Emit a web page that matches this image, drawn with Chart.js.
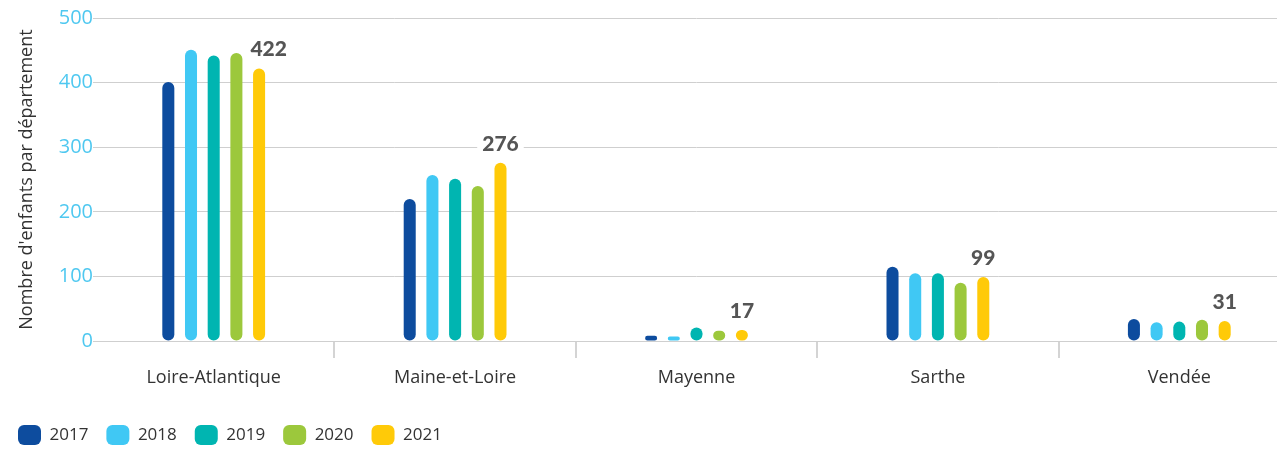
<!DOCTYPE html>
<html>
<head>
<meta charset="utf-8">
<script src="https://cdn.jsdelivr.net/npm/chart.js@4.4.1/dist/chart.umd.min.js"></script>
<style>
  html, body { margin: 0; padding: 0; background: #fff; overflow: hidden; }
  #wrap { width: 1300px; height: 455px; }
</style>
</head>
<body>
<div id="wrap"><canvas id="enfantsChart"></canvas></div>
<script>
// departements + years
const departements = ['Loire-Atlantique', 'Maine-et-Loire', 'Mayenne', 'Sarthe', 'Vendée'];
const annees = ['2017', '2018', '2019', '2020', '2021'];

// children counts per year
const v2017 = [401, 220, 8, 115, 34];
const v2018 = [451, 257, 7, 105, 29];
const v2019 = [442, 251, 21, 105, 30];
const v2020 = [446, 240, 16, 90, 33];
const v2021 = [422, 276, 17, 99, 31];

const yTicks = [0, 100, 200, 300, 400, 500];
const couleurs = ['#0d4c9e', '#40c8f4', '#00b5b1', '#9cc83c', '#ffca08'];

const series = [v2017, v2018, v2019, v2020, v2021];

const LABEL_FONT = '900 21px Lato';

// where to put each value label; nudged right if the previous bar is in the way
function labelBoxes(chart) {
  const ctx = chart.ctx;
  const last = chart.data.datasets.length - 1;
  const meta = chart.getDatasetMeta(last);
  const prev = chart.getDatasetMeta(last - 1);
  ctx.save();
  ctx.font = LABEL_FONT;
  const out = meta.data.map((bar, i) => {
    const txt = String(chart.data.datasets[last].data[i]);
    const w = ctx.measureText(txt).width;
    const y = bar.y - 12;
    let x = bar.x;
    const pb = prev.data[i];
    const pRight = pb.x + pb.width / 2;
    if (pb.y < y && x - w / 2 < pRight + 6) x = pRight + 8 + w / 2;
    return { txt, x, y, w };
  });
  ctx.restore();
  return out;
}

const labelPlugin = {
  id: 'lastYearLabels',
  beforeDatasetsDraw(chart) {
    const ctx = chart.ctx;
    ctx.save();
    ctx.fillStyle = '#fff';
    labelBoxes(chart).forEach(l => ctx.fillRect(l.x - l.w / 2 - 5, l.y - 18, l.w + 10, 22));
    ctx.restore();
  },
  afterDatasetsDraw(chart) {
    const ctx = chart.ctx;
    ctx.save();
    ctx.font = LABEL_FONT;
    ctx.textAlign = 'center';
    ctx.textBaseline = 'alphabetic';
    ctx.fillStyle = '#555';
    labelBoxes(chart).forEach(l => ctx.fillText(l.txt, l.x, l.y));
    ctx.restore();
  }
};

new Chart(document.getElementById('enfantsChart'), {
  type: 'bar',
  data: {
    labels: departements,
    datasets: annees.map((a, i) => ({
      label: a,
      data: series[i],
      backgroundColor: couleurs[i],
      borderRadius: 6,
      borderSkipped: false,
      barPercentage: 0.53,
      categoryPercentage: 0.47
    }))
  },
  options: {
    responsive: true,
    maintainAspectRatio: false,
    animation: false,
    layout: { padding: { left: 0, top: 18, right: 0, bottom: 0 } },
    plugins: {
      tooltip: { enabled: false },
      legend: {
        display: true,
        position: 'bottom',
        align: 'start',
        labels: {
          boxWidth: 23,
          boxHeight: 20,
          useBorderRadius: true,
          borderRadius: 6,
          padding: 18,
          color: '#333',
          font: { family: 'Open Sans', size: 17 }
        }
      }
    },
    scales: {
      y: {
        min: 0,
        max: 500,
        afterBuildTicks: s => { s.ticks = yTicks.map(v => ({ value: v })); },
        afterFit: s => { s.width = 93; },
        grid: { color: '#cfcfcf', lineWidth: 1, drawTicks: false },
        border: { display: false },
        ticks: {
          color: '#4fc8f0',
          padding: 0,
          font: { family: 'Open Sans', size: 20 }
        },
        title: {
          display: true,
          text: "Nombre d'enfants par département",
          color: '#333',
          padding: { top: 16, bottom: 0 },
          font: { family: 'Open Sans', size: 18 }
        }
      },
      x: {
        offset: true,
        afterFit: s => { s.height = 66; },
        grid: {
          offset: true,
          drawOnChartArea: false,
          drawTicks: true,
          tickLength: 17,
          lineWidth: 2,
          color: c => (c.index === 0 ? 'rgba(0,0,0,0)' : '#d4d4d4')
        },
        border: { display: true, color: '#cfcfcf', width: 1 },
        ticks: {
          color: '#333',
          padding: 9,
          font: { family: 'Open Sans', size: 18 }
        }
      }
    }
  },
  plugins: [labelPlugin]
});
</script>
</body>
</html>
